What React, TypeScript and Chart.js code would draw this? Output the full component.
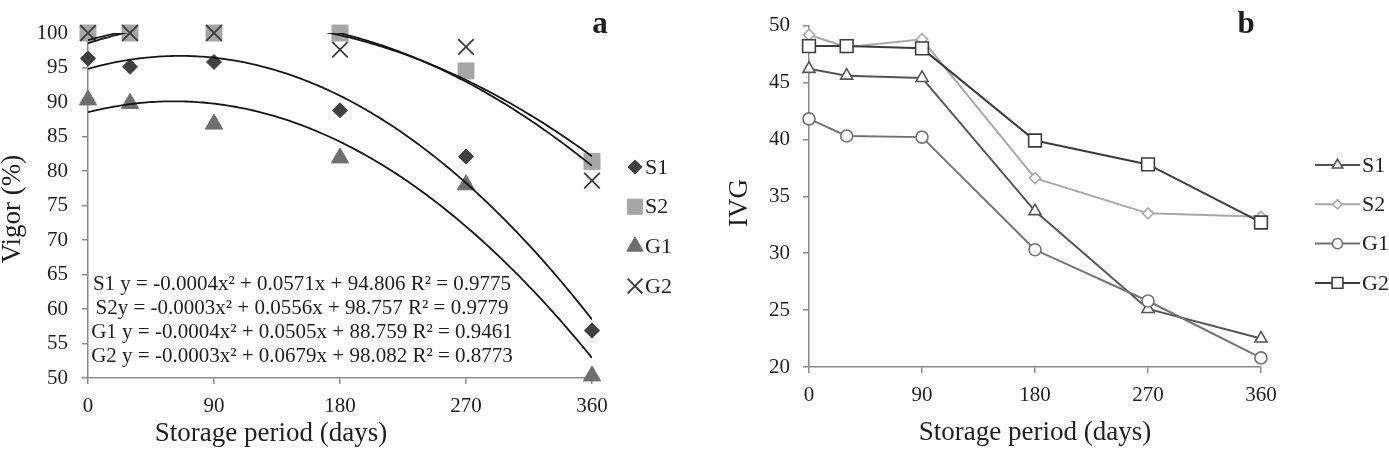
import React, { useEffect, useRef } from 'react';
import { Chart, registerables } from 'chart.js';
import { drawPoint } from 'chart.js/helpers';

Chart.register(...registerables);

// ---------- data ----------
const DAYS = [0, 30, 90, 180, 270, 360];
const X_TICKS = [0, 90, 180, 270, 360];
const VIGOR_TICKS = [50, 55, 60, 65, 70, 75, 80, 85, 90, 95, 100];
const IVG_TICKS = [20, 25, 30, 35, 40, 45, 50];
const SERIES_NAMES = ['S1', 'S2', 'G1', 'G2'];

const VIGOR_S1 = [96.3, 95.1, 95.8, 88.8, 82.1, 56.9];
const VIGOR_S2 = [100, 100, 100, 100, 94.5, 81.4];
const VIGOR_G1 = [90.3, 89.8, 86.8, 81.9, 78.0, 50.3];
const VIGOR_G2 = [100, 100, 100, 97.6, 98.0, 78.6];

const IVG_S1 = [46.2, 45.6, 45.4, 33.7, 25.1, 22.5];
const IVG_S2 = [49.2, 48.1, 48.8, 36.6, 33.5, 33.2];
const IVG_G1 = [41.8, 40.3, 40.2, 30.3, 25.8, 20.8];
const IVG_G2 = [48.2, 48.2, 48.0, 39.9, 37.8, 32.7];

const EQUATIONS = [
  'S1 y = -0.0004x² + 0.0571x + 94.806 R² = 0.9775',
  'S2y = -0.0003x² + 0.0556x + 98.757 R² = 0.9779',
  'G1 y = -0.0004x² + 0.0505x + 88.759 R² = 0.9461',
  'G2 y = -0.0003x² + 0.0679x + 98.082 R² = 0.8773',
];

const VIGOR_SERIES = [VIGOR_S1, VIGOR_S2, VIGOR_G1, VIGOR_G2];
const IVG_SERIES = [IVG_S1, IVG_S2, IVG_G1, IVG_G2];

// ---------- styles ----------
const SERIF = '"Liberation Serif", "Times New Roman", serif';
const TEXT = '#1e1e1e';
const AXIS = '#8a8a8a';

const A_STYLES = [
  { pointStyle: 'rectRot', radius: 7.5, fill: '#404040', stroke: '#404040', width: 1 },
  { pointStyle: 'rect', radius: 11.3, fill: '#a6a6a6', stroke: '#a6a6a6', width: 1 },
  { pointStyle: 'triangle', radius: 10, fill: '#6e6e6e', stroke: '#6e6e6e', width: 1 },
  { pointStyle: 'crossRot', radius: 11, fill: '#3a3a3a', stroke: '#3a3a3a', width: 1.8 },
];

const B_STYLES = [
  { pointStyle: 'triangle', radius: 7, color: '#555555' },
  { pointStyle: 'rectRot', radius: 5.5, color: '#a8a8a8' },
  { pointStyle: 'circle', radius: 6, color: '#727272' },
  { pointStyle: 'rect', radius: 9, color: '#3c3c3c' },
];

// ---------- helpers ----------
function quadFit(xs: number[], ys: number[]): [number, number, number] {
  let s0 = 0, s1 = 0, s2 = 0, s3 = 0, s4 = 0, t0 = 0, t1 = 0, t2 = 0;
  for (let i = 0; i < xs.length; i++) {
    const x = xs[i], y = ys[i];
    s0 += 1; s1 += x; s2 += x * x; s3 += x * x * x; s4 += x * x * x * x;
    t0 += y; t1 += x * y; t2 += x * x * y;
  }
  const det3 = (m: number[][]) =>
    m[0][0] * (m[1][1] * m[2][2] - m[1][2] * m[2][1]) -
    m[0][1] * (m[1][0] * m[2][2] - m[1][2] * m[2][0]) +
    m[0][2] * (m[1][0] * m[2][1] - m[1][1] * m[2][0]);
  const M = [[s4, s3, s2], [s3, s2, s1], [s2, s1, s0]];
  const R = [t2, t1, t0];
  const D = det3(M);
  const col = (k: number) => M.map((row, i) => row.map((v, j) => (j === k ? R[i] : v)));
  return [det3(col(0)) / D, det3(col(1)) / D, det3(col(2)) / D];
}

function trendPoints(xs: number[], ys: number[]) {
  const [a, b, c] = quadFit(xs, ys);
  const lo = Math.min(...xs), hi = Math.max(...xs);
  const n = 180;
  const out: { x: number; y: number }[] = [];
  for (let i = 0; i <= n; i++) {
    const x = lo + ((hi - lo) * i) / n;
    out.push({ x, y: a * x * x + b * x + c });
  }
  return out;
}

function pts(ys: number[]) {
  return DAYS.map((x, i) => ({ x, y: ys[i] }));
}

function axis(ticks: number[], pad: number, min: number, max: number, size: { w?: number; h?: number }) {
  return {
    type: 'linear',
    min,
    max,
    afterBuildTicks: (s: any) => {
      s.ticks = ticks.map((v) => ({ value: v }));
    },
    afterFit: (s: any) => {
      if (size.w !== undefined) s.width = size.w;
      if (size.h !== undefined) s.height = size.h;
    },
    border: { display: true, color: AXIS, width: 1.5 },
    grid: { display: true, drawOnChartArea: false, drawTicks: true, tickLength: 6, color: AXIS, lineWidth: 1.5 },
    ticks: { font: { family: SERIF, size: 21 }, color: TEXT, padding: pad, autoSkip: false, maxRotation: 0 },
  };
}

function rotatedText(ctx: CanvasRenderingContext2D, text: string, x: number, y: number, font: string) {
  ctx.save();
  ctx.translate(x, y);
  ctx.rotate(-Math.PI / 2);
  ctx.font = font;
  ctx.textAlign = 'center';
  ctx.textBaseline = 'alphabetic';
  ctx.fillText(text, 0, 0);
  ctx.restore();
}

// ---------- plugins ----------
const decorA = {
  id: 'decorA',
  afterDraw(chart: any) {
    const ctx: CanvasRenderingContext2D = chart.ctx;
    ctx.save();
    ctx.fillStyle = TEXT;
    rotatedText(ctx, 'Vigor (%)', 20, 209, `27px ${SERIF}`);
    ctx.font = `27px ${SERIF}`;
    ctx.textAlign = 'center';
    ctx.textBaseline = 'alphabetic';
    ctx.fillText('Storage period (days)', 271, 441);
    ctx.font = `bold 31px ${SERIF}`;
    ctx.fillText('a', 600, 33);
    ctx.font = `21px ${SERIF}`;
    EQUATIONS.forEach((t, i) => ctx.fillText(t, 302, 290 + i * 24));
    // legend
    ctx.textAlign = 'left';
    ctx.textBaseline = 'middle';
    ctx.font = `22px ${SERIF}`;
    SERIES_NAMES.forEach((name, i) => {
      const y = 167 + i * 39.7;
      const st = A_STYLES[i];
      ctx.fillStyle = st.fill;
      ctx.strokeStyle = st.stroke;
      ctx.lineWidth = st.width;
      drawPoint(ctx, { pointStyle: st.pointStyle as any, radius: st.radius * 0.95, rotation: 0, borderWidth: st.width }, 635, y);
      ctx.fillStyle = TEXT;
      ctx.fillText(name, 645, y + 1);
    });
    ctx.restore();
  },
};

const decorB = {
  id: 'decorB',
  afterDraw(chart: any) {
    const ctx: CanvasRenderingContext2D = chart.ctx;
    ctx.save();
    ctx.fillStyle = TEXT;
    rotatedText(ctx, 'IVG', 47, 203, `27px ${SERIF}`);
    ctx.font = `27px ${SERIF}`;
    ctx.textAlign = 'center';
    ctx.textBaseline = 'alphabetic';
    const ca = chart.chartArea;
    ctx.fillText('Storage period (days)', (ca.left + ca.right) / 2, 440);
    ctx.font = `bold 31px ${SERIF}`;
    ctx.fillText('b', 546, 33);
    ctx.textAlign = 'left';
    ctx.textBaseline = 'middle';
    ctx.font = `22px ${SERIF}`;
    SERIES_NAMES.forEach((name, i) => {
      const y = 165 + i * 39.3;
      const st = B_STYLES[i];
      ctx.strokeStyle = st.color;
      ctx.lineWidth = 2;
      ctx.beginPath();
      ctx.moveTo(615, y);
      ctx.lineTo(660, y);
      ctx.stroke();
      ctx.fillStyle = '#ffffff';
      ctx.lineWidth = 1.6;
      drawPoint(ctx, { pointStyle: st.pointStyle as any, radius: st.radius * 0.85, rotation: 0, borderWidth: 1.6 }, 637.5, y);
      ctx.fillStyle = TEXT;
      ctx.fillText(name, 662, y + 1);
    });
    ctx.restore();
  },
};

// ---------- components ----------
function PanelA() {
  const ref = useRef<HTMLCanvasElement>(null);
  useEffect(() => {
    const trendSets = VIGOR_SERIES.map((ys) => ({
      data: trendPoints(DAYS, ys),
      showLine: true,
      borderColor: '#161616',
      borderWidth: 1.8,
      pointRadius: 0,
      tension: 0,
      order: 0,
    }));
    const markerSets = VIGOR_SERIES.map((ys, i) => ({
      label: SERIES_NAMES[i],
      data: pts(ys),
      showLine: false,
      pointStyle: A_STYLES[i].pointStyle,
      pointRadius: A_STYLES[i].radius,
      pointBackgroundColor: A_STYLES[i].fill,
      pointBorderColor: A_STYLES[i].stroke,
      pointBorderWidth: A_STYLES[i].width,
      clip: false,
      order: VIGOR_SERIES.length - i,
    }));
    const chart = new Chart(ref.current as HTMLCanvasElement, {
      type: 'scatter',
      data: { datasets: [...trendSets, ...markerSets] as any },
      options: {
        responsive: false,
        animation: false,
        events: [],
        layout: { padding: { left: 0, top: 33, right: 108, bottom: 0 } },
        plugins: { legend: { display: false }, tooltip: { enabled: false } },
        scales: {
          x: axis(X_TICKS, 10, 0, 360, { h: 75 }) as any,
          y: axis(VIGOR_TICKS, 14, 50, 100, { w: 88 }) as any,
        },
      },
      plugins: [decorA],
    });
    return () => chart.destroy();
  }, []);
  return <canvas ref={ref} width={700} height={453} style={{ position: 'absolute', left: 0, top: 0, display: 'block' }} />;
}

function PanelB() {
  const ref = useRef<HTMLCanvasElement>(null);
  useEffect(() => {
    const sets = IVG_SERIES.map((ys, i) => ({
      label: SERIES_NAMES[i],
      data: pts(ys),
      borderColor: B_STYLES[i].color,
      borderWidth: 2,
      tension: 0,
      pointStyle: B_STYLES[i].pointStyle,
      pointRadius: B_STYLES[i].radius,
      pointBackgroundColor: '#ffffff',
      pointBorderColor: B_STYLES[i].color,
      pointBorderWidth: 1.6,
      clip: false,
      order: IVG_SERIES.length - i,
    }));
    const chart = new Chart(ref.current as HTMLCanvasElement, {
      type: 'line',
      data: { datasets: sets as any },
      options: {
        responsive: false,
        animation: false,
        events: [],
        layout: { padding: { left: 0, top: 22, right: 128, bottom: 0 } },
        plugins: { legend: { display: false }, tooltip: { enabled: false } },
        scales: {
          x: axis(X_TICKS, 10, 0, 360, { h: 86 }) as any,
          y: axis(IVG_TICKS, 13, 20, 50, { w: 109 }) as any,
        },
      },
      plugins: [decorB],
    });
    return () => chart.destroy();
  }, []);
  return <canvas ref={ref} width={689} height={453} style={{ position: 'absolute', left: 700, top: 0, display: 'block' }} />;
}

export default function App() {
  return (
    <div style={{ position: 'absolute', left: 0, top: 0, width: 1389, height: 453, background: '#ffffff', overflow: 'hidden' }}>
      <PanelA />
      <PanelB />
    </div>
  );
}
